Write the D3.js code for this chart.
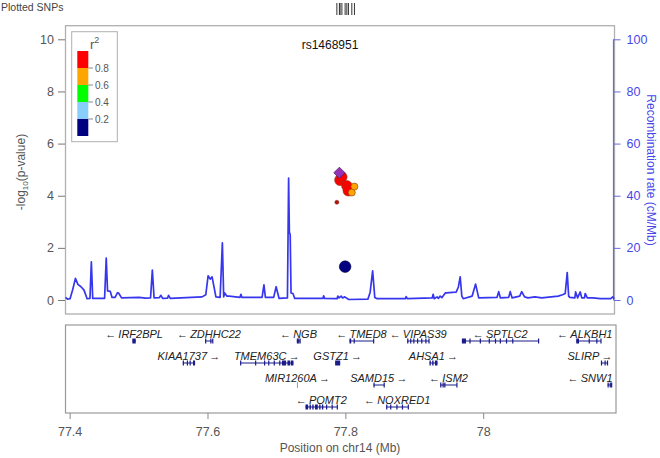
<!DOCTYPE html>
<html><head><meta charset="utf-8">
<script src="https://cdn.jsdelivr.net/npm/d3@7"></script>
<style>
html,body{margin:0;padding:0;background:#fff;}
svg{display:block;font-family:"Liberation Sans",Arial,sans-serif;}
</style></head>
<body><svg id="c" width="660" height="458"></svg>
<script>
// ---------------- DATA ----------------
const leadSnp = "rs1468951";
const snpPos  = [77.7914, 77.7924, 77.7950, 77.8022, 77.8045, 77.8132, 77.8094, 77.7877, 77.7997];
const snpLogP = [4.88, 4.60, 4.72, 4.38, 4.20, 4.35, 4.12, 3.75, 1.28];
const snpR2   = [1.0, 0.92, 0.90, 0.88, 0.90, 0.70, 0.68, 0.85, 0.10];

const recPos = [77.394,77.397,77.4006,77.4045,77.4084,77.412,77.4165,77.4209,77.4253,77.4295,77.4315,77.4335,
 77.4507,77.4531,77.455,77.459,77.4615,77.466,77.4695,77.471,77.4753,77.5007,77.51,77.5174,77.52,77.5225,
 77.53,77.5324,77.535,77.542,77.5435,77.546,77.5922,77.5975,77.6009,77.604,77.6067,77.6122,77.6183,77.6216,
 77.6235,77.625,77.628,77.6314,77.647,77.6485,77.65,77.6792,77.6819,77.684,77.696,77.6996,77.7039,77.716,
 77.7177,77.7188,77.72,77.7212,77.724,77.7266,77.7675,77.7685,77.77,77.788,77.7891,77.791,77.7939,77.796,
 77.7991,77.805,77.8327,77.836,77.8396,77.8427,77.8462,77.887,77.8882,77.89,77.926,77.9274,77.929,77.933,
 77.935,77.9376,77.94,77.945,77.947,77.955,77.9608,77.964,77.9666,77.969,77.971,77.984,77.989,77.9935,
 78.02,78.0225,78.025,78.037,78.0392,78.042,78.053,78.0559,78.06,78.065,78.075,78.085,78.1089,78.115,78.119,
 78.1219,78.124,78.1257,78.133,78.1341,78.137,78.1408,78.143,78.147,78.148,78.151,78.1592,78.17,78.185,78.188,78.1901];
const recRate = [1.0,0.3,0.5,4,8.3,6,5.1,3.8,0.5,0.6,14.6,0.6,
 0.6,16.1,3.5,3.3,1.0,1.0,2.8,2.7,0.8,1.0,0.7,0.8,11.5,0.8,
 0.9,1.8,0.6,0.7,1.8,0.6,1.2,2.0,9.3,8.0,8.9,1.2,1.0,21.9,
 1.2,2.7,1.5,1.5,1.0,2.2,1.0,1.0,5.8,1.0,1.0,5.1,0.6,0.8,
 46.8,26,25,2.7,2.5,0.6,0.6,1.6,0.6,0.5,1.5,0.8,1.5,0.8,
 1.2,0.2,0.3,3,11.2,1,0.5,0.5,1.3,0.5,0.8,2.2,0.5,1.2,
 0.6,1.5,0.9,2.7,2.7,2.9,3.0,5,8.9,1.5,0.5,1.5,6.1,0.8,
 1,3.2,0.8,1,3.2,0.8,1.5,3.2,1.2,0.8,1.2,0.8,1.5,2,2.5,
 10.5,1.5,1,0.8,3.1,0.8,3.1,0.8,0.8,2.5,0.8,0.8,0.5,0.5,1.2,0.5];

const geneNames  = ["IRF2BPL","ZDHHC22","NGB","TMED8","VIPAS39","SPTLC2","ALKBH1",
                    "KIAA1737","TMEM63C","GSTZ1","AHSA1","SLIRP",
                    "MIR1260A","SAMD15","ISM2","SNW1",
                    "POMT2","NOXRED1"];
const geneStart  = [77.4910,77.5965,77.7296,77.8060,77.8897,77.9691,78.1350,
                    77.5641,77.6473,77.7852,77.9221,78.1708,
                    77.7305,77.8408,77.9376,78.1804,
                    77.7422,77.8592];
const geneEnd    = [77.4959,77.6077,77.7344,77.8408,77.9216,78.0803,78.1708,
                    77.5820,77.7247,77.7925,77.9337,78.1804,
                    77.7307,77.8563,77.9618,78.1868,
                    77.7881,77.8911];
const geneStrand = ["-","-","-","-","-","-","-",
                    "+","+","+","+","+",
                    "+","+","-","-",
                    "-","-"];
const geneRow    = [0,0,0,0,0,0,0, 1,1,1,1,1, 2,2,2,2, 3,3];
const geneExons  = [
 [[77.4910,77.4959]],
 [[77.5965,77.5977],[77.6040,77.6045],[77.6068,77.6077]],
 [[77.7296,77.7305],[77.7315,77.7322],[77.7335,77.7344]],
 [[77.8060,77.8085],[77.8120,77.8128],[77.8402,77.8408]],
 [[77.8897,77.8915],[77.8940,77.8955],[77.8985,77.8995],[77.9040,77.9055],[77.9100,77.9112],[77.9160,77.9175],[77.9205,77.9216]],
 [[77.9691,77.9750],[77.9800,77.9808],[77.9950,77.9958],[78.0080,78.0088],[78.0170,78.0178],[78.0240,78.0248],[78.0330,78.0338],[78.0420,78.0428],[78.0795,78.0803]],
 [[78.1350,78.1390],[78.1530,78.1538],[78.1640,78.1648],[78.1700,78.1708]],
 [[77.5641,77.5648],[77.5700,77.5706],[77.5740,77.5746],[77.5790,77.5820]],
 [[77.6473,77.6480],[77.6690,77.6696],[77.6820,77.6830],[77.6880,77.6888],[77.6960,77.6968],[77.7040,77.7048],[77.7080,77.7140],[77.7160,77.7200],[77.7210,77.7247]],
 [[77.7852,77.7925]],
 [[77.9221,77.9240],[77.9260,77.9280],[77.9300,77.9337]],
 [[78.1708,78.1718],[78.1760,78.1770],[78.1795,78.1804]],
 [],
 [[77.8408,77.8418],[77.8555,77.8563]],
 [[77.9376,77.9390],[77.9410,77.9420],[77.9435,77.9450],[77.9610,77.9618]],
 [[78.1804,78.1815],[78.1835,78.1840],[78.1855,78.1868]],
 [[77.7422,77.7460],[77.7480,77.7500],[77.7520,77.7540],[77.7560,77.7600],[77.7620,77.7640],[77.7660,77.7680],[77.7720,77.7730],[77.7800,77.7808],[77.7875,77.7881]],
 [[77.8592,77.8600],[77.8650,77.8660],[77.8740,77.8750],[77.8820,77.8830],[77.8905,77.8911]]
];

const xTicks = [77.4, 77.6, 77.8, 78];
const yTicks = [0, 2, 4, 6, 8, 10];
const rTicks = [0, 20, 40, 60, 80, 100];
const r2Breaks = [0, 0.2, 0.4, 0.6, 0.8, 1.0];
const r2Colors = ["#000080","#87CEFA","#00FF00","#FFA500","#FF0000"];
const r2Labels = ["0.2","0.4","0.6","0.8"];

// ---------------- LAYOUT / STYLE ----------------
const svg = d3.select("#c");
const L = 65.5, R = 614.5, T = 25.7, B = 314;
const GT = 325, GB = 413;
const x = d3.scaleLinear().domain([77.394, 78.1905]).range([L, R]);
const yL = d3.scaleLinear().domain([0, 10]).range([300, 39.3]);
const yR = d3.scaleLinear().domain([0, 100]).range([300, 39.3]);
const grey = "#555", boxCol = "#b0b0b0", recCol = "#3636ee", recAxis = "#6a6ae0";

// top rug
svg.append("text").attr("x", 1).attr("y", 11).attr("font-size", 10.5).attr("fill", "#444").text("Plotted SNPs");
svg.append("g").selectAll("line").data(snpPos).join("line")
  .attr("x1", d => x(d)).attr("x2", d => x(d)).attr("y1", 3).attr("y2", 15)
  .attr("stroke", "#333").attr("stroke-width", 1);

// main box
svg.append("rect").attr("x", L).attr("y", T).attr("width", R - L).attr("height", B - T)
  .attr("fill", "none").attr("stroke", boxCol).attr("stroke-width", 1.3);

// left axis
const gl = svg.append("g").attr("transform", `translate(${L - 0.5},0)`)
  .call(d3.axisLeft(yL).tickValues(yTicks).tickSize(7).tickPadding(4).tickFormat(d3.format("d")));
gl.select(".domain").attr("stroke-width", 0);
gl.selectAll(".tick line").attr("stroke", "#777");
gl.selectAll(".tick text").attr("fill", grey).attr("font-size", 12.5).attr("font-family", "Liberation Sans, Arial, sans-serif");

// right axis
const gr = svg.append("g").attr("transform", `translate(${R - 1},0)`)
  .call(d3.axisRight(yR).tickValues(rTicks).tickSize(7).tickPadding(6).tickFormat(d3.format("d")));
gr.select(".domain").attr("stroke", recAxis).attr("d", `M0,${yR(0)}V${yR(100)}`).attr("stroke-width", 1.2);
gr.selectAll(".tick line").attr("stroke", recAxis);
gr.selectAll(".tick text").attr("fill", "#4747e8").attr("font-size", 12.5).attr("font-family", "Liberation Sans, Arial, sans-serif");

// axis titles
const yt = svg.append("text").attr("transform", "translate(25,172) rotate(-90)")
  .attr("text-anchor", "middle").attr("font-size", 12).attr("fill", grey);
yt.append("tspan").text("-log");
yt.append("tspan").attr("font-size", 8).attr("dy", 3).text("10");
yt.append("tspan").attr("dy", -3).text("(p-value)");
svg.append("text").attr("transform", "translate(647,170) rotate(90)")
  .attr("text-anchor", "middle").attr("font-size", 12).attr("fill", "#4747e8")
  .text("Recombination rate (cM/Mb)");

// recombination line
const recData = recPos.map((p, i) => [p, recRate[i]]);
svg.append("path").datum(recData)
  .attr("d", d3.line().x(d => x(d[0])).y(d => yR(d[1])))
  .attr("fill", "none").attr("stroke", recCol).attr("stroke-width", 1.7).attr("stroke-linejoin", "round");

// lead SNP label
svg.append("text").attr("x", 330).attr("y", 49).attr("text-anchor", "middle")
  .attr("font-size", 12).attr("fill", "#111").text(leadSnp);

// legend
const lg = svg.append("g");
lg.append("rect").attr("x", 71.7).attr("y", 31.7).attr("width", 45.6).attr("height", 110)
  .attr("fill", "#fff").attr("stroke", boxCol).attr("stroke-width", 1);
const lt = lg.append("text").attr("x", 90).attr("y", 49).attr("font-size", 13).attr("fill", grey);
lt.append("tspan").text("r");
lt.append("tspan").attr("font-size", 9).attr("dy", -6).text("2");
const lScale = d3.scaleLinear().domain([1, 0]).range([51, 136]);
lg.selectAll("rect.c").data(r2Colors).join("rect").attr("class", "c")
  .attr("x", 77.3).attr("width", 11)
  .attr("y", (d, i) => lScale(r2Breaks[i + 1])).attr("height", (d, i) => lScale(r2Breaks[i]) - lScale(r2Breaks[i + 1]))
  .attr("fill", d => d);
lg.selectAll("line.t").data(r2Labels).join("line").attr("class", "t")
  .attr("x1", 88.3).attr("x2", 93).attr("y1", d => lScale(+d)).attr("y2", d => lScale(+d))
  .attr("stroke", "#888");
lg.selectAll("text.l").data(r2Labels).join("text").attr("class", "l")
  .attr("x", 95).attr("y", d => lScale(+d) + 3.5).attr("font-size", 10).attr("fill", grey).text(d => d);

// SNP points
const r2Color = v => r2Colors[Math.min(4, Math.floor(v / 0.2))];
const radius = [6.2, 5.5, 5.2, 5.3, 5.5, 3.5, 3.5, 2.0, 5.8];
const pts = snpPos.map((p, i) => ({p, lp: snpLogP[i], r2: snpR2[i], r: radius[i], i}));
const ptsG = svg.append("g");
pts.filter(d => d.i !== 0).forEach(d => {
  ptsG.append("circle").attr("cx", x(d.p)).attr("cy", yL(d.lp)).attr("r", d.r)
    .attr("fill", d.i === 7 ? "#b01010" : r2Color(d.r2))
    .attr("stroke", d.r2 < 0.2 ? "#000040" : "#8a3a1a").attr("stroke-width", 0.6);
});
// lead SNP (diamond)
const lead = pts[0];
ptsG.append("path").attr("d", d3.symbol(d3.symbolDiamond2, 80)())
  .attr("transform", `translate(${x(lead.p)},${yL(lead.lp)})`)
  .attr("fill", "#9632B8").attr("stroke", "#4a1860").attr("stroke-width", 0.7);

// gene panel
svg.append("rect").attr("x", L).attr("y", GT).attr("width", R - L + 1.5).attr("height", GB - GT)
  .attr("fill", "none").attr("stroke", "#999").attr("stroke-width", 1.2);
const rowGlyph = [341, 363, 385, 407];
const rowLabel = [338, 360, 382, 404];
const gG = svg.append("g");
geneNames.forEach((name, i) => {
  const s = x(geneStart[i]), e = x(geneEnd[i]), gy = rowGlyph[geneRow[i]];
  const col = "#1b1b8c";
  if (name === "MIR1260A") {
    gG.append("line").attr("x1", s).attr("x2", s).attr("y1", gy - 3).attr("y2", gy + 3).attr("stroke", "#9a9ab8").attr("stroke-width", 1);
  } else {
    gG.append("line").attr("x1", s).attr("x2", e).attr("y1", gy).attr("y2", gy)
      .attr("stroke", col).attr("stroke-width", 1);
  }
  geneExons[i].forEach(ex => {
    gG.append("rect").attr("x", x(ex[0])).attr("y", gy - 2.5)
      .attr("width", Math.max(1.2, x(ex[1]) - x(ex[0]))).attr("height", 5).attr("fill", col);
  });
  const label = geneStrand[i] === "-" ? "\u2190\u2009" + name : name + "\u2009\u2192";
  const t = gG.append("text").attr("y", rowLabel[geneRow[i]]).attr("font-size", 11)
    .attr("font-style", "italic").attr("fill", "#222").attr("text-anchor", "middle").text(label);
  let cx = (s + e) / 2;
  const w = t.node().getComputedTextLength();
  if (cx + w / 2 > R - 2) cx = R - 2 - w / 2;
  t.attr("x", cx);
});

// x axis
const gx = svg.append("g").attr("transform", `translate(0,${GB})`)
  .call(d3.axisBottom(x).tickValues(xTicks).tickSize(6).tickPadding(8).tickFormat(d => String(d)));
gx.select(".domain").remove();
gx.selectAll(".tick line").attr("stroke", "#888");
gx.selectAll(".tick text").attr("fill", grey).attr("font-size", 12.5).attr("font-family", "Liberation Sans, Arial, sans-serif");
svg.append("text").attr("x", 340).attr("y", 452).attr("text-anchor", "middle")
  .attr("font-size", 12).attr("fill", grey).text("Position on chr14 (Mb)");
</script></body></html>
